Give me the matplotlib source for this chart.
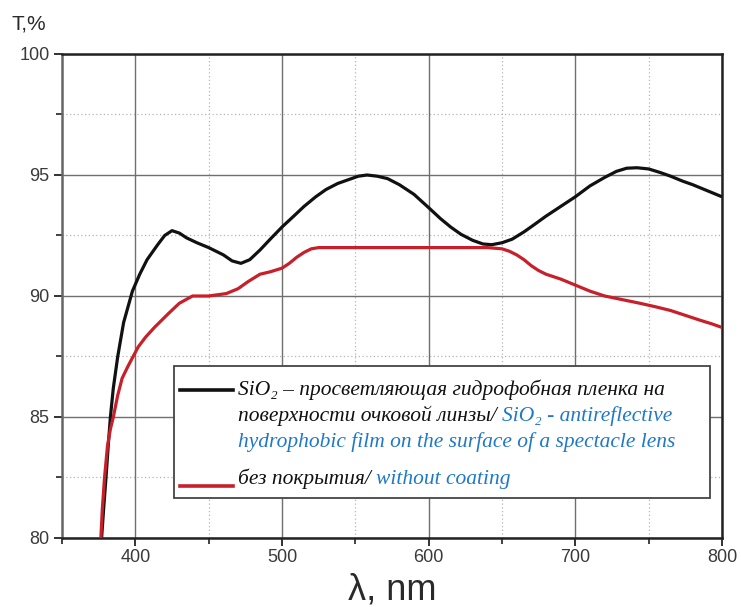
import matplotlib
matplotlib.use("Agg")
import matplotlib.pyplot as plt
from matplotlib.patches import Rectangle
from matplotlib.lines import Line2D
from matplotlib.ticker import MultipleLocator

# ---- data ----
wl_coated = [377, 378.5, 380, 381.5, 383, 385, 388, 392, 398, 403, 408, 415, 420, 425, 430,
             435, 442, 450, 460, 466, 472, 478, 485, 492, 500, 508, 515, 523, 530, 538,
             545, 552, 558, 565, 572, 580, 590, 600, 608, 615, 622, 630, 637, 643, 650,
             657, 665, 672, 680, 690, 700, 710, 720, 728, 735, 742, 750, 758, 765, 773,
             780, 790, 800]
t_coated = [80.0, 81.3, 82.5, 83.8, 85.0, 86.2, 87.5, 88.9, 90.2, 90.9, 91.5, 92.1, 92.5, 92.7, 92.6,
            92.4, 92.2, 92.0, 91.7, 91.45, 91.35, 91.5, 91.9, 92.35, 92.85, 93.3, 93.7, 94.1, 94.4, 94.65,
            94.8, 94.95, 95.0, 94.95, 94.85, 94.6, 94.2, 93.65, 93.2, 92.85, 92.55, 92.3, 92.15, 92.12, 92.2,
            92.35, 92.65, 92.95, 93.3, 93.7, 94.1, 94.55, 94.9, 95.15, 95.28, 95.3, 95.25, 95.1, 94.95, 94.75,
            94.6, 94.35, 94.1]

wl_uncoated = [376.5, 377.5, 379, 381, 383, 385, 388, 391, 395, 398.5, 402, 407, 413, 418, 423,
               430, 439, 450, 462, 470, 477, 485, 492, 500, 505, 510, 515, 520, 525, 530,
               560, 600, 640, 650, 655, 660, 665, 670, 675, 680, 690, 700, 710, 720, 732,
               744, 755, 765, 775, 785, 793, 800]
t_uncoated = [80.0, 81.2, 82.5, 83.8, 84.5, 85.0, 85.9, 86.6, 87.1, 87.5, 87.9, 88.3, 88.7, 89.0, 89.3,
              89.7, 90.0, 90.0, 90.1, 90.3, 90.6, 90.9, 91.0, 91.15, 91.35, 91.6, 91.8, 91.95, 92.0, 92.0,
              92.0, 92.0, 92.0, 91.95, 91.85, 91.7, 91.5, 91.25, 91.05, 90.9, 90.7, 90.45, 90.2, 90.0, 89.85,
              89.7, 89.55, 89.4, 89.2, 89.0, 88.85, 88.7]

x_ticks = [400, 500, 600, 700, 800]
y_ticks = [80, 85, 90, 95, 100]

legend_ru_1 = "SiO\u2082 \u2013 просветляющая гидрофобная пленка на"
legend_ru_2 = "поверхности очковой линзы/ "
legend_en_2 = "SiO\u2082 - antireflective"
legend_en_3 = "hydrophobic film on the surface of a spectacle lens"
legend_ru_4 = "без покрытия/ "
legend_en_4 = "without coating"

W, H = 741, 607
fig = plt.figure(figsize=(W / 100, H / 100), dpi=100)
ax = fig.add_axes([62 / W, 1 - 538 / H, 660 / W, 484 / H])

BLACK = "#111111"
RED = "#c8202a"
BLUE = "#1f78c8"

ax.plot(wl_coated, t_coated, color=BLACK, lw=2.3, zorder=3, solid_capstyle="butt")
ax.plot(wl_uncoated, t_uncoated, color=RED, lw=2.3, zorder=3, solid_capstyle="butt")

ax.set_xlim(350, 800)
ax.set_ylim(80, 100)
ax.set_xticks(x_ticks)
ax.set_yticks(y_ticks)
ax.xaxis.set_minor_locator(MultipleLocator(50))
ax.yaxis.set_minor_locator(MultipleLocator(2.5))

ax.grid(which="major", color="#6f6f6f", lw=1.0, ls="-", zorder=1)
ax.grid(which="minor", color="#b5b5b5", lw=0.9, ls=(0, (1, 2)), zorder=1)

for s in ax.spines.values():
    s.set_color("#222222")
    s.set_linewidth(1.8)
ax.spines["left"].set_color("#666666")

ax.tick_params(which="major", direction="out", length=6, width=1.3, color="#222222")
ax.tick_params(which="minor", direction="out", length=4, width=1.2, color="#222222")
ax.tick_params(axis="x", which="major", pad=2)
ax.tick_params(axis="y", which="major", pad=3)
for lbl in ax.get_xticklabels() + ax.get_yticklabels():
    lbl.set_fontfamily(["Liberation Sans", "DejaVu Sans"])
    lbl.set_fontsize(13)
    lbl.set_color("#3a3a3a")

fig.text(0.5 * (62 + 722) / W, 1 - 600 / H, "\u03bb, nm", fontsize=26,
         family=["Liberation Sans", "DejaVu Sans"], color="#2a2a2a", ha="center", va="baseline")
fig.text(12 / W, 1 - 24 / H, "T,%", fontsize=15, family=["Liberation Sans", "DejaVu Sans"],
         color="#2a2a2a", va="center", ha="left")

# ---- legend drawn by hand (multi-colour text) ----
def fx(px):
    return px / W

def fy(py):
    return 1 - py / H

box = Rectangle((fx(174), fy(498)), fx(710) - fx(174), fy(366) - fy(498),
                transform=fig.transFigure, facecolor="white", edgecolor="#444444",
                lw=1.3, zorder=10)
fig.add_artist(box)

fig.add_artist(Line2D([fx(180), fx(233)], [fy(390), fy(390)], transform=fig.transFigure,
                      color=BLACK, lw=2.6, zorder=11))
fig.add_artist(Line2D([fx(180), fx(233)], [fy(486), fy(486)], transform=fig.transFigure,
                      color=RED, lw=2.6, zorder=11))

tfont = dict(family=["Liberation Serif", "DejaVu Serif"], style="italic", fontsize=15.5)

renderer = fig.canvas.get_renderer()

def text_line(pieces, x_px, y_px):
    x = x_px
    for s, c in pieces:
        t = fig.text(fx(x), fy(y_px), s, color=c, ha="left", va="baseline", zorder=12, **tfont)
        bb = t.get_window_extent(renderer=renderer)
        x += bb.width

text_line([(legend_ru_1, BLACK)], 238, 395)
text_line([(legend_ru_2, BLACK), (legend_en_2, BLUE)], 238, 421)
text_line([(legend_en_3, BLUE)], 238, 447)
text_line([(legend_ru_4, BLACK), (legend_en_4, BLUE)], 238, 484)

fig.savefig("out.png", dpi=100)
